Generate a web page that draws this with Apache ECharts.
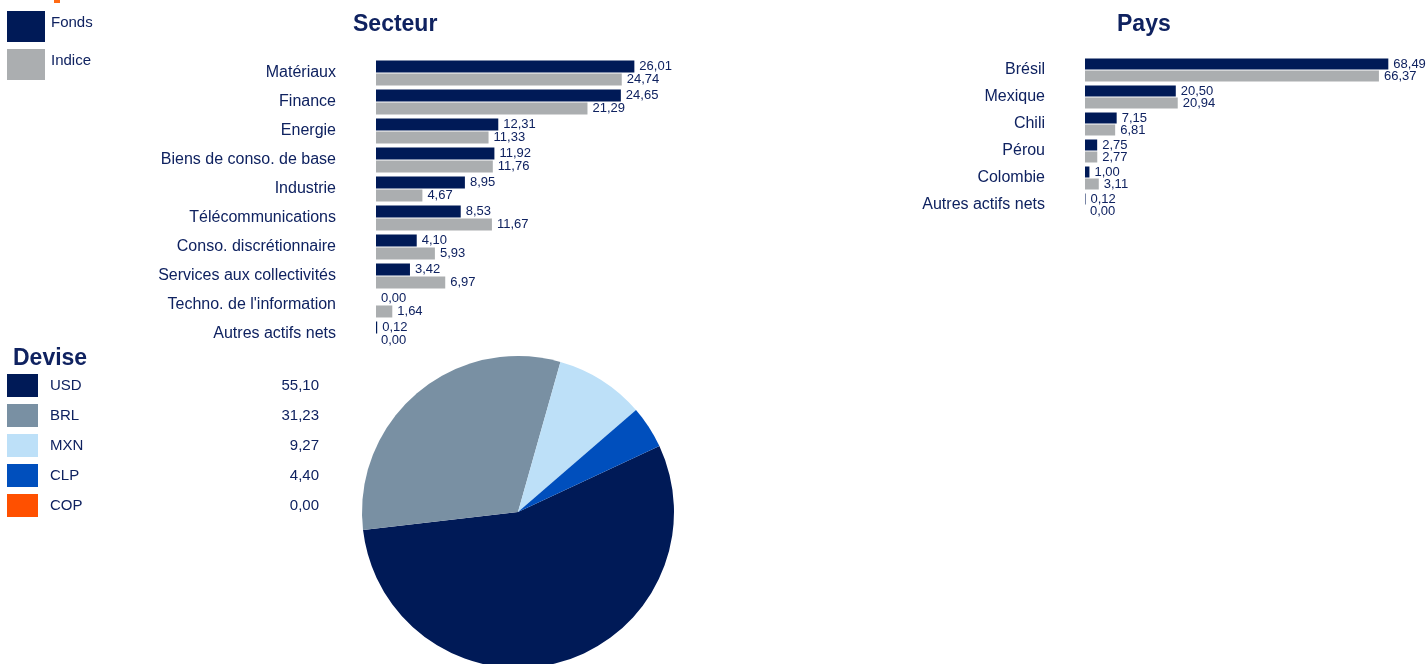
<!DOCTYPE html>
<html>
<head>
<meta charset="utf-8">
<script src="https://cdn.jsdelivr.net/npm/echarts@6/dist/echarts.min.js"></script>
<style>
  html, body { margin: 0; padding: 0; background: #ffffff; }
  #chart { width: 1428px; height: 664px; }
</style>
</head>
<body>
<div id="chart"></div>
<script>
// Répartition par secteur (Fonds vs Indice)
const secteurCategories = ['Matériaux', 'Finance', 'Energie', 'Biens de conso. de base', 'Industrie',
  'Télécommunications', 'Conso. discrétionnaire', 'Services aux collectivités',
  "Techno. de l'information", 'Autres actifs nets'];
const secteurFonds = [26.01, 24.65, 12.31, 11.92, 8.95, 8.53, 4.10, 3.42, 0.00, 0.12];
const secteurIndice = [24.74, 21.29, 11.33, 11.76, 4.67, 11.67, 5.93, 6.97, 1.64, 0.00];

// Répartition par pays
const paysCategories = ['Brésil', 'Mexique', 'Chili', 'Pérou', 'Colombie', 'Autres actifs nets'];
const paysFonds = [68.49, 20.50, 7.15, 2.75, 1.00, 0.12];
const paysIndice = [66.37, 20.94, 6.81, 2.77, 3.11, 0.00];

// Répartition par devise
const deviseNames = ['USD', 'BRL', 'MXN', 'CLP', 'COP'];
const deviseValues = [55.10, 31.23, 9.27, 4.40, 0.00];
const deviseColors = ['#001a57', '#7990a3', '#bde0f8', '#004fbd', '#ff5000'];

const NAVY = '#001a57';
const GREY = '#abaeb0';
const TEXT = '#0f2260';
const FONT = '"Liberation Sans", Arial, sans-serif';

const fmt = v => v.toFixed(2).replace('.', ',');

function valueLabel() {
  return {
    show: true, position: 'right', distance: 5,
    color: TEXT, fontSize: 13, fontFamily: FONT,
    formatter: p => fmt(p.value)
  };
}

function categoryAxis(gridIndex, data) {
  return {
    gridIndex, type: 'category', data, inverse: true,
    axisLine: { show: false }, axisTick: { show: false }, splitLine: { show: false },
    axisLabel: { margin: 40, fontSize: 16, color: TEXT, fontFamily: FONT, padding: [4, 0, 0, 0] }
  };
}

const titleStyle = { fontSize: 23, fontWeight: 'bold', color: TEXT, fontFamily: FONT };

const chart = echarts.init(document.getElementById('chart'), null, { renderer: 'canvas' });

chart.setOption({
  animation: false,
  textStyle: { fontFamily: FONT },
  title: [
    { text: 'Secteur', left: 348, top: 8, textStyle: titleStyle },
    { text: 'Pays', left: 1112, top: 8, textStyle: titleStyle },
    { text: 'Devise', left: 8, top: 342, textStyle: titleStyle }
  ],
  legend: [
    {
      data: ['Fonds', 'Indice'],
      orient: 'vertical', left: 7, top: 11, padding: 0,
      itemWidth: 38, itemHeight: 31, itemGap: 7,
      icon: 'rect', selectedMode: false,
      formatter: name => '{t|' + name + '}',
      textStyle: {
        fontSize: 15, color: TEXT, fontFamily: FONT,
        rich: { t: { fontSize: 15, color: TEXT, fontFamily: FONT, padding: [0, 0, 7, 1] } }
      }
    },
    {
      data: deviseNames,
      orient: 'vertical', left: 7, top: 374, padding: 0,
      itemWidth: 31, itemHeight: 23, itemGap: 7,
      icon: 'rect', selectedMode: false,
      formatter: name => '{n|' + name + '}{v|' + fmt(deviseValues[deviseNames.indexOf(name)]) + '}',
      textStyle: {
        fontSize: 15, color: TEXT, fontFamily: FONT,
        rich: {
          n: { fontSize: 15, color: TEXT, fontFamily: FONT, width: 219, padding: [0, 0, 0, 7] },
          v: { fontSize: 15, color: TEXT, fontFamily: FONT, width: 50, align: 'right' }
        }
      }
    }
  ],
  grid: [
    { left: 376, top: 58.5, width: 298, height: 290 },
    { left: 1085, top: 56.5, width: 310, height: 162 }
  ],
  xAxis: [
    { gridIndex: 0, type: 'value', min: 0, max: 30, show: false },
    { gridIndex: 1, type: 'value', min: 0, max: 70, show: false }
  ],
  yAxis: [
    categoryAxis(0, secteurCategories),
    categoryAxis(1, paysCategories)
  ],
  series: [
    { name: 'Fonds', type: 'bar', xAxisIndex: 0, yAxisIndex: 0, data: secteurFonds,
      barWidth: 12, barGap: '8%', itemStyle: { color: NAVY }, label: valueLabel() },
    { name: 'Indice', type: 'bar', xAxisIndex: 0, yAxisIndex: 0, data: secteurIndice,
      barWidth: 12, barGap: '8%', itemStyle: { color: GREY }, label: valueLabel() },
    { name: 'Fonds', type: 'bar', xAxisIndex: 1, yAxisIndex: 1, data: paysFonds,
      barWidth: 11, barGap: '9%', itemStyle: { color: NAVY }, label: valueLabel() },
    { name: 'Indice', type: 'bar', xAxisIndex: 1, yAxisIndex: 1, data: paysIndice,
      barWidth: 11, barGap: '9%', itemStyle: { color: GREY }, label: valueLabel() },
    {
      name: 'Devise', type: 'pie', center: [518, 512], radius: 156,
      startAngle: 25, clockwise: true, label: { show: false }, labelLine: { show: false },
      emphasis: { disabled: true },
      data: deviseNames.map((n, i) => ({ name: n, value: deviseValues[i], itemStyle: { color: deviseColors[i] } }))
    }
  ],
  graphic: [
    { type: 'rect', left: 54, top: 0, shape: { width: 6, height: 3 }, style: { fill: '#ff6a13' } }
  ]
});
</script>
</body>
</html>
